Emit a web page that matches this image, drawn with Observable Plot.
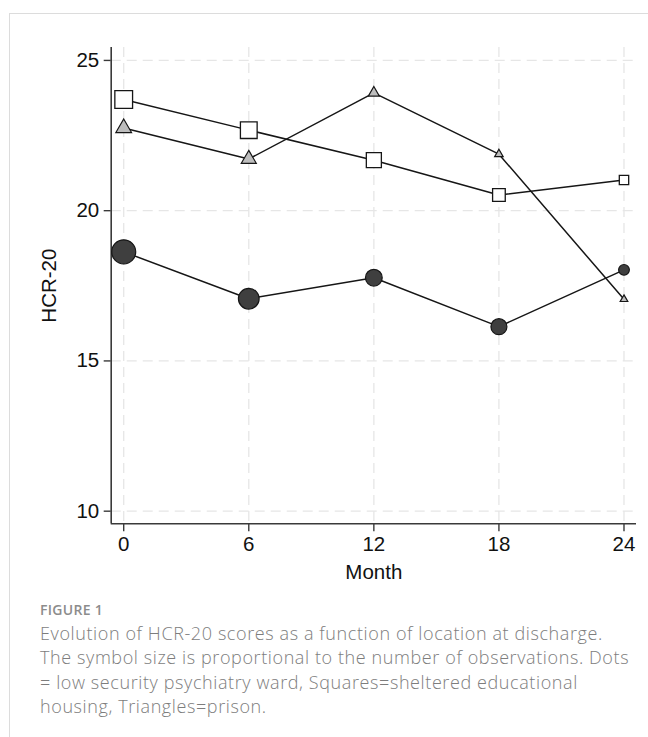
<!DOCTYPE html>
<html>
<head>
<meta charset="utf-8">
<script src="https://cdn.jsdelivr.net/npm/d3@7"></script>
<script src="https://cdn.jsdelivr.net/npm/@observablehq/plot@0.6"></script>
<style>
  html, body { margin: 0; padding: 0; background: #fff; width: 648px; height: 737px; overflow: hidden; }
  #frame { position: absolute; left: 8.5px; top: 12.5px; width: 700px; height: 800px;
           border-top: 1.6px solid #dcdcdc; border-left: 1.6px solid #dcdcdc; }
  #chart { position: absolute; left: 0; top: 0; }
  .cap { position: absolute; left: 40px; font-family: "Open Sans", Lato, sans-serif; color: #7d7d7d; }
  #fig { top: 603px; font-size: 14px; line-height: 14px; font-weight: 600; color: #8c8c8c; letter-spacing: 0.3px; }
  #desc { top: 621px; font-size: 18px; line-height: 24.3px; font-weight: 300; letter-spacing: 0.6px; white-space: nowrap; }
</style>
</head>
<body>
<div id="frame"></div>
<div id="chart"></div>
<div class="cap" id="fig">FIGURE 1</div>
<div class="cap" id="desc">Evolution of HCR-20 scores as a function of location at discharge.<br>The symbol size is proportional to the number of observations. Dots<br>= low security psychiatry ward, Squares=sheltered educational<br>housing, Triangles=prison.</div>
<script>
// ---- data ----
const months = [0, 6, 12, 18, 24];
const seriesNames = ["low security psychiatry ward", "sheltered educational housing", "prison"];
const dotsHCR = [18.63, 17.07, 17.77, 16.14, 18.03];
const squaresHCR = [23.70, 22.68, 21.68, 20.52, 21.02];
const trianglesHCR = [22.75, 21.72, 23.92, 21.88, 17.05];
// relative number of observations (symbol size proportional to it)
const dotsN = [144, 107, 70, 64, 29];
const squaresN = [100, 89, 72, 51, 28];
const trianglesN = [34, 31, 17, 10, 8];
const xTicks = [0, 6, 12, 18, 24];
const yTicks = [10, 15, 20, 25];

const xDomain = [-0.6, 24.6];
const yDomain = [9.58, 25.43];

const build = (name, ys, ns) => months.map((m, i) => ({series: name, month: m, hcr: ys[i], n: ns[i]}));
const dots = build(seriesNames[0], dotsHCR, dotsN);
const squares = build(seriesNames[1], squaresHCR, squaresN);
const triangles = build(seriesNames[2], trianglesHCR, trianglesN);
const all = [...dots, ...squares, ...triangles];

const ink = "#161616";
const axisInk = "#3a3a3a";

const chart = Plot.plot({
  width: 648,
  height: 590,
  marginLeft: 110.7,
  marginRight: 12,
  marginTop: 47,
  marginBottom: 66.7,
  style: {fontFamily: "'Liberation Sans', Arial, Helvetica, sans-serif", fontSize: "20.5px", color: "#111", background: "transparent"},
  x: {domain: xDomain, inset: 0},
  y: {domain: yDomain, inset: 0},
  r: {type: "sqrt", domain: [0, 144], range: [0, 12]},
  marks: [
    Plot.gridY(yTicks, {stroke: "#e6e6e6", strokeOpacity: 1, strokeWidth: 1.3, strokeDasharray: "10,6"}),
    Plot.gridX(xTicks, {stroke: "#e6e6e6", strokeOpacity: 1, strokeWidth: 1.3, strokeDasharray: "10,6"}),
    Plot.ruleX([xDomain[0]], {stroke: axisInk, strokeWidth: 1.6}),
    Plot.ruleY([yDomain[0]], {stroke: axisInk, strokeWidth: 1.6}),
    Plot.axisY(yTicks, {tickSize: 7, tickPadding: 5, stroke: axisInk, strokeWidth: 1.4,
      label: "HCR-20", labelAnchor: "center", labelOffset: 70, labelArrow: "none"}),
    Plot.axisX(xTicks, {tickSize: 8, tickPadding: 5, stroke: axisInk, strokeWidth: 1.4,
      label: "Month", labelAnchor: "center", labelOffset: 55, labelArrow: "none"}),
    Plot.line(all, {x: "month", y: "hcr", z: "series", stroke: ink, strokeWidth: 1.5}),
    Plot.dot(triangles, {x: "month", y: "hcr", r: "n", symbol: "triangle", fill: "#bdbdbd", stroke: ink, strokeWidth: 1.2}),
    Plot.dot(squares, {x: "month", y: "hcr", r: "n", symbol: "square", fill: "#ffffff", stroke: ink, strokeWidth: 1.3}),
    Plot.dot(dots, {x: "month", y: "hcr", r: "n", symbol: "circle", fill: "#3f3f3f", stroke: ink, strokeWidth: 1.2})
  ]
});
document.getElementById("chart").appendChild(chart);
</script>
</body>
</html>
